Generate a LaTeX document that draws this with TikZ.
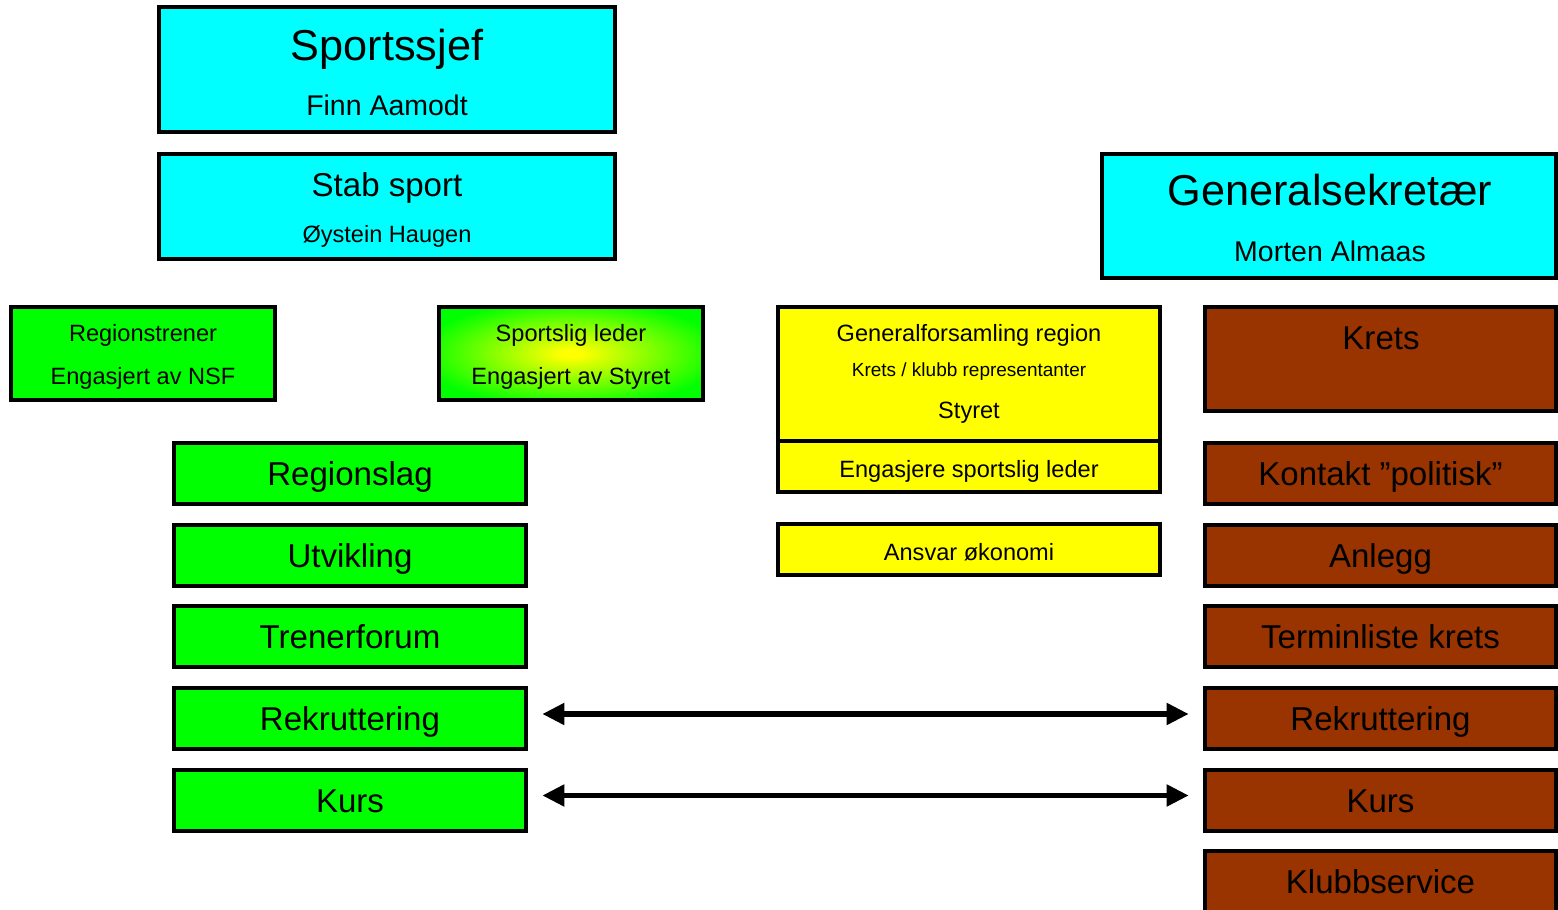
\documentclass[tikz,border=0pt]{standalone}
\usepackage{fontspec}
\setmainfont{Liberation Sans}
\usepackage{xcolor}
\usetikzlibrary{arrows.meta,positioning}

\definecolor{sjefcyan}{HTML}{00FFFF}
\definecolor{regiongreen}{HTML}{00FF00}
\definecolor{kretsbrown}{HTML}{993300}
\definecolor{styreyellow}{HTML}{FFFF00}
\pgfdeclareradialshading{sportsglow}{\pgfpoint{0bp}{0bp}}{color(0bp)=(styreyellow); color(2bp)=(styreyellow); color(29bp)=(regiongreen); color(50bp)=(regiongreen)}

\begin{document}
\begin{tikzpicture}[x=0.01cm, y=-0.01cm,
    box/.style={draw=black, line width=0.045cm, rectangle, inner sep=0pt},
    bigtext/.style={font=\fontsize{12.3}{14}\selectfont},
    midtext/.style={font=\fontsize{9.4}{11}\selectfont, text height=0.3cm, text depth=0.06cm},
    nametext/.style={font=\fontsize{8.1}{10}\selectfont},
    smalltext/.style={font=\fontsize{6.7}{8}\selectfont},
    tinytext/.style={font=\fontsize{5.4}{6.5}\selectfont},
    rowbox/.style={box, midtext, minimum height=0.61cm},
    yrowbox/.style={box, smalltext, fill=styreyellow, minimum width=3.82cm, minimum height=0.51cm, text height=0.24cm, text depth=0.03cm},
    link/.style={{Triangle[length=0.22cm,width=0.21cm]}-{Triangle[length=0.22cm,width=0.21cm]}, line width=0.05cm, shorten <=0.14cm, shorten >=0.14cm}]
\path[use as bounding box] (0,0) rectangle (1558,910);
\clip (0,0) rectangle (1558,910);

    % Sportssjef and stab
    \node[box, fill=sjefcyan, minimum width=4.56cm, minimum height=1.25cm] (sjef) at (387,69.5) {};
    \node[bigtext, anchor=base] (sjefT) at (387,61) {Sportssjef};
    \node[nametext, anchor=base] (sjefN) at (387,116) {Finn Aamodt};
    \node[box, fill=sjefcyan, minimum width=4.56cm, minimum height=1.05cm] (stab) at (387,206.5) {};
    \node[midtext, anchor=base] (stabT) at (387,197) {Stab sport};
    \node[smalltext, anchor=base] (stabN) at (387,243) {Øystein Haugen};

    % Generalsekretaer
    \node[box, fill=sjefcyan, minimum width=4.54cm, minimum height=1.24cm] (gensek) at (1329,216) {};
    \node[bigtext, anchor=base] (gensekT) at (1330,206) {Generalsekretær};
    \node[nametext, anchor=base] (gensekN) at (1330,262) {Morten Almaas};

    % Regionstrener / sportslig leder
    \node[box, fill=regiongreen, minimum width=2.64cm, minimum height=0.93cm] (trener) at (143,353.5) {};
    \node[smalltext, anchor=base] (trenerT) at (143,342) {Regionstrener};
    \node[smalltext, anchor=base] (trenerN) at (143,385) {Engasjert av NSF};
    \node[box, shade, shading=sportsglow, minimum width=2.64cm, minimum height=0.93cm] (leder) at (571,353.5) {};
    \node[smalltext, anchor=base] (lederT) at (571,342) {Sportslig leder};
    \node[smalltext, anchor=base] (lederN) at (571,385) {Engasjert av Styret};

    % Styret
    \node[box, fill=styreyellow, minimum width=3.82cm, minimum height=1.34cm] (gf) at (969,374) {};
    \node[smalltext, anchor=base] (gfT) at (969,342) {Generalforsamling region};
    \node[tinytext, anchor=base] (gfK) at (969,377) {Krets / klubb representanter};
    \node[smalltext, anchor=base] (gfS) at (969,419) {Styret};
    \node[yrowbox] (engasjer) at (969,466.5) {Engasjere sportslig leder};
    \node[yrowbox] (okonomi) at (969,549.5) {Ansvar økonomi};

    % Region column
    \node[rowbox, fill=regiongreen, minimum width=3.52cm] (regionslag) at (350,473.5) {Regionslag};
    \node[rowbox, fill=regiongreen, minimum width=3.52cm] (utvikling) at (350,555.5) {Utvikling};
    \node[rowbox, fill=regiongreen, minimum width=3.52cm] (trenerforum) at (350,636.5) {Trenerforum};
    \node[rowbox, fill=regiongreen, minimum width=3.52cm] (rekL) at (350,718.5) {Rekruttering};
    \node[rowbox, fill=regiongreen, minimum width=3.52cm] (kursL) at (350,800.5) {Kurs};

    % Krets column
    \node[box, fill=kretsbrown, minimum width=3.51cm, minimum height=1.04cm] (krets) at (1380.5,359) {};
    \node[midtext, anchor=base] (kretsT) at (1381,350) {Krets};
    \node[rowbox, fill=kretsbrown, minimum width=3.51cm] (kontakt) at (1380.5,473.5) {Kontakt ”politisk”};
    \node[rowbox, fill=kretsbrown, minimum width=3.51cm] (anlegg) at (1380.5,555.5) {Anlegg};
    \node[rowbox, fill=kretsbrown, minimum width=3.51cm] (terminliste) at (1380.5,636.5) {Terminliste krets};
    \node[rowbox, fill=kretsbrown, minimum width=3.51cm] (rekR) at (1380.5,718.5) {Rekruttering};
    \node[rowbox, fill=kretsbrown, minimum width=3.51cm] (kursR) at (1380.5,800.5) {Kurs};
    \node[rowbox, fill=kretsbrown, minimum width=3.51cm] (klubbservice) at (1380.5,881.5) {Klubbservice};

    % Links
    \draw[link] ([yshift=0.045cm]rekL.east) -- ([yshift=0.045cm]rekR.west);
    \draw[link] ([yshift=0.05cm]kursL.east) -- ([yshift=0.05cm]kursR.west);
\end{tikzpicture}
\end{document}
